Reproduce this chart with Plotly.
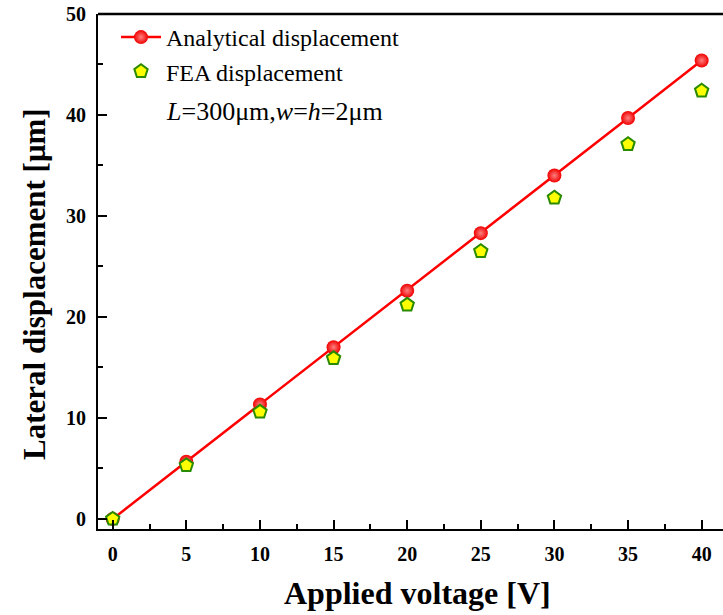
import plotly.graph_objects as go

voltage = [0, 5, 10, 15, 20, 25, 30, 35, 40]
analytical = [0.0, 5.67, 11.33, 17.0, 22.6, 28.3, 34.0, 39.7, 45.4]
fea = [0.0, 5.3, 10.6, 15.9, 21.2, 26.5, 31.8, 37.1, 42.4]
x_ticks = [0, 5, 10, 15, 20, 25, 30, 35, 40]
y_ticks = [0, 10, 20, 30, 40, 50]

serif = "Times New Roman, Liberation Serif, serif"

W, H = 723, 615
L, T, B = 98, 14, 86
pw, ph = W - L, H - T - B


def px(x):
    return (x - L) / pw


def py(y):
    return 1 - (y - T) / ph


fig = go.Figure()
fig.add_trace(go.Scatter(
    x=voltage, y=analytical, mode="lines+markers", name="Analytical displacement",
    line=dict(color="#ff0000", width=2.5),
    marker=dict(symbol="circle", size=14, color="#f00000",
                gradient=dict(type="radial", color="#ff8080"),
                line=dict(width=0)),
))
fig.add_trace(go.Scatter(
    x=voltage, y=fea, mode="markers", name="FEA displacement",
    marker=dict(symbol="pentagon", size=14, color="#ffff00",
                line=dict(color="#2a8a00", width=2)),
))

fig.add_annotation(
    x=px(165), y=py(112), xref="paper", yref="paper", showarrow=False,
    text="<i>L</i>=300μm,<i>w</i>=<i>h</i>=2μm",
    font=dict(family=serif, size=26, color="black"),
    xanchor="left", yanchor="middle", borderpad=0,
)
fig.add_annotation(
    x=px(417), y=py(593), xref="paper", yref="paper", showarrow=False,
    text="<b>Applied voltage [V]</b>",
    font=dict(family=serif, size=32, color="black"),
    xanchor="center", yanchor="middle",
)
fig.add_annotation(
    x=px(34), y=py(284), xref="paper", yref="paper", showarrow=False,
    text="<b>Lateral displacement [μm]</b>", textangle=-90,
    font=dict(family=serif, size=31, color="black"),
    xanchor="center", yanchor="middle",
)

fig.update_layout(
    width=W, height=H,
    margin=dict(l=L, r=0, t=T, b=B),
    paper_bgcolor="white", plot_bgcolor="white",
    showlegend=True,
    legend=dict(
        x=px(116), y=py(15), xanchor="left", yanchor="top",
        bgcolor="rgba(0,0,0,0)", borderwidth=0,
        font=dict(family=serif, size=24, color="black"),
        tracegroupgap=0, itemwidth=40,
    ),
    xaxis=dict(
        range=[-1, 41.45], tickvals=x_ticks, ticks="inside", ticklen=9, tickwidth=2,
        tickcolor="black", showline=True, linewidth=2, linecolor="black",
        mirror=False, showgrid=False, zeroline=False, automargin=False,
        minor=dict(ticks="inside", ticklen=5, tickwidth=2, tickcolor="black", dtick=2.5, showgrid=False),
        tickfont=dict(family=serif, size=20, color="black", weight="bold"),
        ticklabelstandoff=6,
    ),
    yaxis=dict(
        range=[-1, 50], tickvals=y_ticks, ticks="inside", ticklen=9, tickwidth=2,
        tickcolor="black", showline=True, linewidth=2, linecolor="black",
        mirror=False, showgrid=False, zeroline=False, automargin=False,
        minor=dict(ticks="inside", ticklen=5, tickwidth=2, tickcolor="black", dtick=5, showgrid=False),
        tickfont=dict(family=serif, size=20, color="black", weight="bold"),
        ticklabelstandoff=6,
    ),
)
fig.add_shape(type="line", xref="paper", yref="paper", x0=0, x1=1, y0=1, y1=1,
              line=dict(color="black", width=2.5))

fig.write_html(
    "out.html",
    config={"displayModeBar": False},
    post_script="document.body.style.margin='0';document.body.style.overflow='hidden';",
)
